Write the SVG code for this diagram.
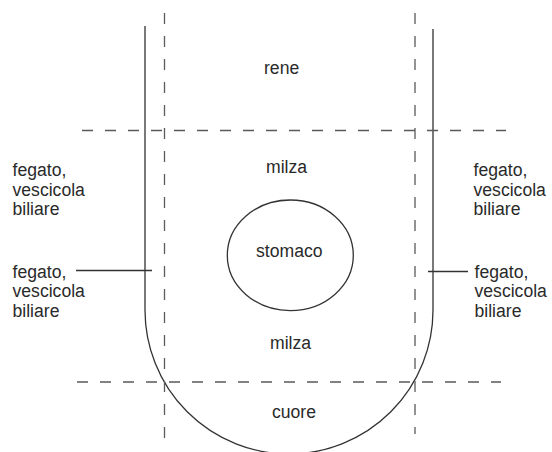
<svg xmlns="http://www.w3.org/2000/svg" width="552" height="452" viewBox="0 0 552 452">
<style>
.bg{fill:#ffffff}
.solid{fill:none;stroke:#333333;stroke-width:1.3}
.dash{fill:none;stroke:#5a5a5a;stroke-width:1.3;stroke-dasharray:11 12}
text{font-family:"Liberation Sans",Arial,sans-serif;font-size:17.6px;fill:#2a2a2a}
</style>
<rect class="bg" x="0" y="0" width="552" height="452"/>
<g id="connectors">
<path id="u-shape" class="solid" d="M145,26 L145,310 A144,144 0 0 0 433,310 L433,29"/>
<line class="solid" x1="76" y1="270.5" x2="152" y2="270.5"/>
<line class="solid" x1="428" y1="271.5" x2="468" y2="271.5"/>
<line class="dash" x1="164.5" y1="13" x2="164.5" y2="438"/>
<line class="dash" x1="415" y1="13" x2="415" y2="434"/>
<line class="dash" x1="82" y1="130.5" x2="506" y2="130.5"/>
<line class="dash" x1="77" y1="382" x2="501" y2="382"/>
</g>
<g id="rene"><text x="264" y="74">rene</text></g>
<g id="milza-top"><text x="266" y="173">milza</text></g>
<g id="stomaco"><ellipse class="solid" cx="290.3" cy="255.3" rx="63" ry="55.3"/><text x="256" y="257">stomaco</text></g>
<g id="milza-bottom"><text x="270" y="349">milza</text></g>
<g id="cuore"><text x="272" y="418">cuore</text></g>
<g id="fegato-left-top"><text x="12.5" y="176">fegato,</text><text x="12.5" y="195.5">vescicola</text><text x="12.5" y="214.5">biliare</text></g>
<g id="fegato-left-bottom"><text x="12.5" y="277.5">fegato,</text><text x="12.5" y="297">vescicola</text><text x="12.5" y="316.5">biliare</text></g>
<g id="fegato-right-top"><text x="473.5" y="176">fegato,</text><text x="473.5" y="195.5">vescicola</text><text x="473.5" y="214.5">biliare</text></g>
<g id="fegato-right-bottom"><text x="474.5" y="277.5">fegato,</text><text x="474.5" y="297">vescicola</text><text x="474.5" y="316.5">biliare</text></g>
</svg>
